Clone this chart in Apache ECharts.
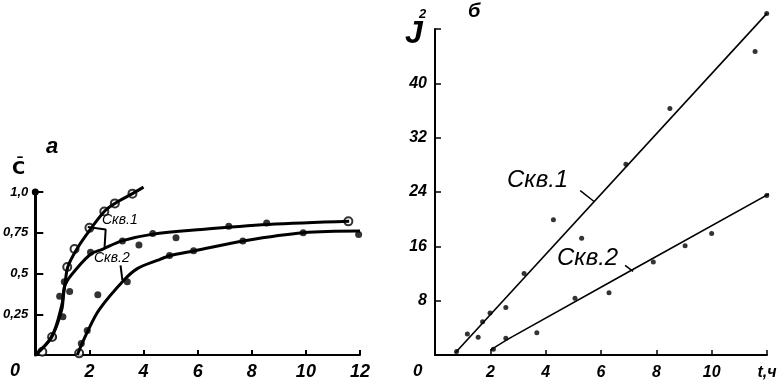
<!DOCTYPE html>
<html><head><meta charset="utf-8">
<script src="https://cdn.jsdelivr.net/npm/echarts@6/dist/echarts.min.js"></script>
<style>html,body{margin:0;padding:0;background:#fff}#c{width:784px;height:386px}</style>
</head><body><div id="c"></div>
<script>
// ---- Panel а : C̄ vs t ----
const aXTicks = [2, 4, 6, 8, 10, 12];
const aYTicks = [0.25, 0.5, 0.75, 1.0];
const aYLabels = ['0,25', '0,5', '0,75', '1,0'];
// fitted curves
const aCurveOpen = [[0,0],[0.6,0.11],[0.97,0.3],[1.1,0.44],[1.2,0.54],[1.5,0.64],[1.9,0.74],[2.55,0.88],[2.94,0.93],[3.59,0.99],[4.0,1.03]];
const aCurveUpper = [[0,0],[0.6,0.11],[0.98,0.28],[1.1,0.43],[1.58,0.54],[2.06,0.62],[2.5,0.65],[3.2,0.7],[4.3,0.74],[6.15,0.77],[8.6,0.8],[11.6,0.82]];
const aCurveLower = [[1.55,0],[1.92,0.14],[2.37,0.28],[3.28,0.46],[3.77,0.53],[4.5,0.58],[5.0,0.61],[5.9,0.64],[7.7,0.70],[9.9,0.75],[12.0,0.76]];
// measured points
const aOpenPts = [[0.26,0.02],[0.62,0.11],[1.18,0.54],[1.45,0.65],[2.0,0.78],[2.55,0.88],[2.94,0.93],[3.59,0.99],[1.62,0.01],[11.57,0.82]];
const aUpperPts = [[0.66,0.11],[1.02,0.235],[0.9,0.36],[1.07,0.45],[1.27,0.39],[2.04,0.63],[3.22,0.70],[3.83,0.675],[4.34,0.745],[5.2,0.72],[7.15,0.79],[8.55,0.81]];
const aLowerPts = [[1.7,0.07],[1.92,0.15],[2.31,0.37],[3.4,0.45],[4.96,0.61],[5.85,0.64],[7.67,0.70],[9.9,0.75],[11.95,0.74]];
// label leaders
const aLeader1 = [[1.94,0.785],[2.6,0.77],[2.56,0.66]];
const aLeader2 = [[3.15,0.55],[3.22,0.46]];

// ---- Panel б : J² vs t ----
const bXTicks = [2, 4, 6, 8, 10, 12];
const bXLabels = ['2', '4', '6', '8', '10', 't,ч'];
const bYTicks = [8, 16, 24, 32, 40];
const bLine1 = [[0.72,0.25],[12.0,50.3]];
const bLine2 = [[2.0,0.7],[2.8,2.7],[12.55,24.8]];
const bPts1 = [[0.78,0.5],[1.17,3.1],[1.56,2.6],[1.72,4.9],[1.99,6.2],[2.56,7.0],[3.22,12.0],[4.28,19.9],[5.3,17.2],[6.9,28.1],[8.49,36.3],[11.57,44.7],[11.99,50.3]];
const bPts2 = [[2.11,0.84],[2.56,2.46],[3.68,3.28],[5.06,8.34],[6.29,9.16],[7.89,13.7],[9.04,16.1],[10.0,17.9],[11.99,23.5]];
const bLeader1 = [[5.25,24.2],[5.75,22.6]];
const bLeader2 = [[6.87,13.2],[7.16,12.3]];

const FONT = 'Liberation Sans';
const ink = '#000';
const lblStyle = {color: ink, fontFamily: FONT, fontStyle: 'italic', fontWeight: 'bold'};

function curve(data, xi, w, smooth) {
  return {type: 'line', xAxisIndex: xi, yAxisIndex: xi, data: data, showSymbol: false, symbol: 'none',
    smooth: smooth ? 0.35 : false, clip: false, silent: true,
    lineStyle: {color: ink, width: w}};
}
function pts(data, xi, size, open) {
  return {type: 'scatter', xAxisIndex: xi, yAxisIndex: xi, data: data, symbol: 'circle', symbolSize: size,
    clip: false, silent: true,
    itemStyle: open ? {color: '#fff', borderColor: ink, borderWidth: 2} : {color: ink}};
}

const chart = echarts.init(document.getElementById('c'), null, {renderer: 'canvas'});
chart.setOption({
  animation: false,
  backgroundColor: '#fff',
  grid: [
    {left: 32, right: 424, top: 192, bottom: 31},
    {left: 435, right: 17, top: 29, bottom: 31}
  ],
  xAxis: [
    {gridIndex: 0, type: 'value', min: 0, max: 12, interval: 2,
      axisLine: {lineStyle: {color: ink, width: 2}},
      axisTick: {inside: true, length: 5, lineStyle: {color: ink, width: 2}},
      splitLine: {show: false},
      axisLabel: Object.assign({fontSize: 18, margin: 8,
        formatter: v => aXTicks.indexOf(v) >= 0 ? String(v) : ''}, lblStyle)},
    {gridIndex: 1, type: 'value', min: 0, max: 12, interval: 2,
      axisLine: {lineStyle: {color: ink, width: 2}},
      axisTick: {inside: true, length: 5, lineStyle: {color: ink, width: 1.5}},
      splitLine: {show: false},
      axisLabel: Object.assign({fontSize: 16, margin: 10,
        formatter: v => { const i = bXTicks.indexOf(v); return i >= 0 ? bXLabels[i] : ''; }}, lblStyle)}
  ],
  yAxis: [
    {gridIndex: 0, type: 'value', min: 0, max: 1, interval: 0.25,
      axisLine: {show: true, symbol: ['none', 'circle'], symbolSize: [7, 7], lineStyle: {color: ink, width: 3}},
      axisTick: {show: true, inside: true, length: 8, lineStyle: {color: ink, width: 2}},
      splitLine: {show: false},
      axisLabel: Object.assign({fontSize: 13, margin: 7,
        formatter: v => { const i = aYTicks.indexOf(v); return i >= 0 ? aYLabels[i] : ''; }}, lblStyle)},
    {gridIndex: 1, type: 'value', min: 0, max: 48, interval: 8,
      axisLine: {show: true, lineStyle: {color: ink, width: 2}},
      axisTick: {show: true, inside: true, length: 6, lineStyle: {color: ink, width: 1.5}},
      splitLine: {show: false},
      axisLabel: Object.assign({fontSize: 16, margin: 8,
        formatter: v => bYTicks.indexOf(v) >= 0 ? String(v) : ''}, lblStyle)}
  ],
  series: [
    curve(aCurveOpen, 0, 3, true),
    curve(aCurveUpper, 0, 3, true),
    curve(aCurveLower, 0, 3, true),
    curve(aLeader1, 0, 2, false),
    curve(aLeader2, 0, 2, false),
    pts(aUpperPts, 0, 7, false),
    pts(aLowerPts, 0, 7, false),
    pts(aOpenPts, 0, 8, true),
    curve(bLine1, 1, 1.6, false),
    curve(bLine2, 1, 1.6, true),
    curve(bLeader1, 1, 1.5, false),
    curve(bLeader2, 1, 1.5, false),
    pts(bPts1, 1, 5, false),
    pts(bPts2, 1, 5, false)
  ],
  graphic: [
    {type: 'text', left: 46, top: 136, style: {text: 'а', font: 'italic bold 22px "' + FONT + '"', fill: ink}},
    {type: 'text', left: 12, top: 160, style: {text: 'C̄', font: 'bold 18px "DejaVu Sans"', fill: ink}},
    {type: 'text', left: 10, top: 362, style: {text: '0', font: 'italic bold 18px "' + FONT + '"', fill: ink}},
    {type: 'text', left: 102, top: 213, style: {text: 'Скв.1', font: 'italic 14px "' + FONT + '"', fill: ink}},
    {type: 'text', left: 94, top: 251, style: {text: 'Скв.2', font: 'italic 14px "' + FONT + '"', fill: ink}},
    {type: 'text', left: 468, top: 1, style: {text: 'б', font: 'italic bold 20px "' + FONT + '"', fill: ink}},
    {type: 'text', left: 405, top: 18, style: {text: 'J', font: 'italic bold 32px "' + FONT + '"', fill: ink}},
    {type: 'text', left: 419, top: 8, style: {text: '2', font: 'italic bold 13px "' + FONT + '"', fill: ink}},
    {type: 'text', left: 413, top: 363, style: {text: '0', font: 'italic bold 17px "' + FONT + '"', fill: ink}},
    {type: 'text', left: 507, top: 168, style: {text: 'Скв.1', font: 'italic 24px "' + FONT + '"', fill: ink}},
    {type: 'text', left: 557, top: 246, style: {text: 'Скв.2', font: 'italic 24px "' + FONT + '"', fill: ink}}
  ]
});
</script></body></html>
